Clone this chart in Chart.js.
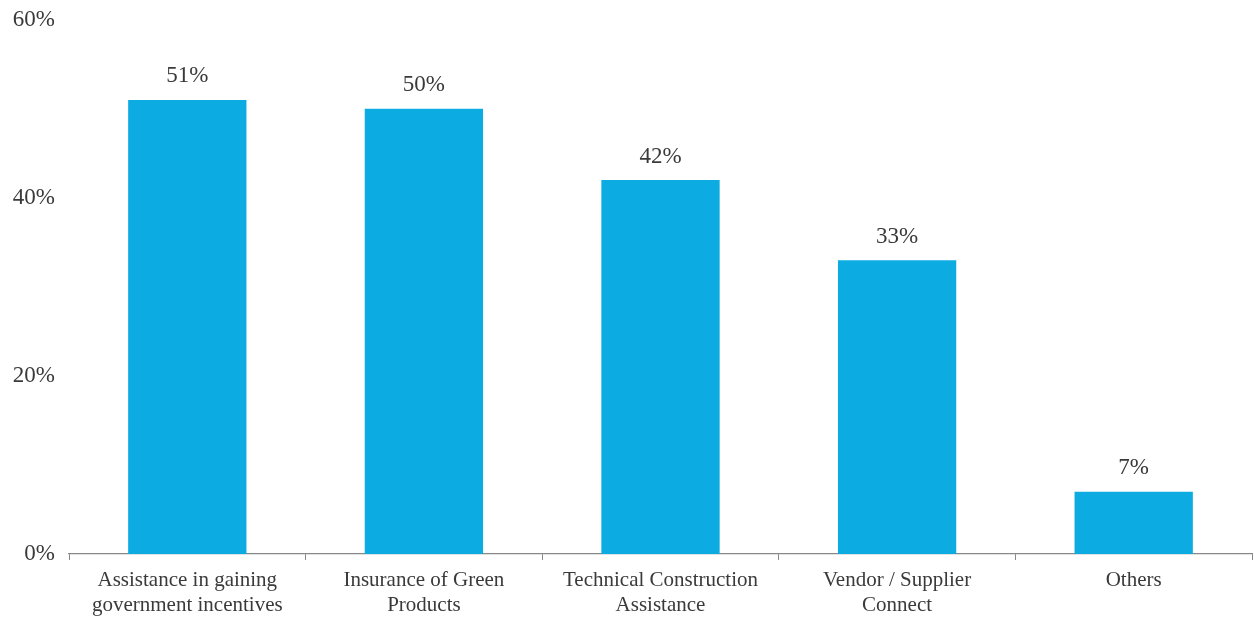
<!DOCTYPE html>
<html>
<head>
<meta charset="utf-8">
<script src="https://cdn.jsdelivr.net/npm/chart.js@4.4.1/dist/chart.umd.min.js"></script>
<style>
    html, body { margin: 0; padding: 0; background: #fff; }
    #wrap { width: 1254px; height: 617px; position: relative; }
</style>
</head>
<body>
<div id="wrap"><canvas id="chart"></canvas></div>
<script>
const categories = [
    ['Assistance in gaining', 'government incentives'],
    ['Insurance of Green', 'Products'],
    ['Technical Construction', 'Assistance'],
    ['Vendor / Supplier', 'Connect'],
    'Others'
];
const shares = [51, 50, 42, 33, 7];
const yTicks = [0, 20, 40, 60];

const FONT = '"Liberation Serif", "DejaVu Serif", serif';
const TEXT = '#3a3a3a';

// value labels above each bar
const barLabels = {
    id: 'barLabels',
    afterDatasetsDraw(chart) {
        const ctx = chart.ctx;
        const meta = chart.getDatasetMeta(0);
        ctx.save();
        ctx.font = '23px ' + FONT;
        ctx.fillStyle = TEXT;
        ctx.textAlign = 'center';
        ctx.textBaseline = 'bottom';
        meta.data.forEach((bar, i) => {
            ctx.fillText(shares[i] + '%', bar.x, bar.y - 12);
        });
        ctx.restore();
    }
};

new Chart(document.getElementById('chart').getContext('2d'), {
    type: 'bar',
    data: {
        labels: categories,
        datasets: [{
            data: shares,
            backgroundColor: '#0cace3',
            categoryPercentage: 1,
            barPercentage: 0.5
        }]
    },
    options: {
        responsive: true,
        maintainAspectRatio: false,
        animation: false,
        layout: { padding: { top: 0, right: 2, left: 0, bottom: 0 } },
        plugins: {
            legend: { display: false },
            tooltip: { enabled: false }
        },
        scales: {
            x: {
                grid: {
                    display: true,
                    drawOnChartArea: false,
                    offset: true,
                    tickLength: 6,
                    color: '#888'
                },
                border: { display: true, color: '#888', width: 1.2 },
                ticks: {
                    color: TEXT,
                    font: { family: FONT, size: 21, lineHeight: 1.2 },
                    padding: 8,
                    maxRotation: 0
                },
                afterFit(scale) { scale.height = 63; }
            },
            y: {
                min: 0,
                max: 60,
                afterBuildTicks(scale) {
                    scale.ticks = yTicks.map(v => ({ value: v }));
                },
                grid: { display: false },
                border: { display: false },
                ticks: {
                    color: TEXT,
                    font: { family: FONT, size: 23 },
                    padding: 6,
                    callback: v => v + '%'
                },
                afterFit(scale) { scale.width = 69; }
            }
        }
    },
    plugins: [barLabels]
});
</script>
</body>
</html>
